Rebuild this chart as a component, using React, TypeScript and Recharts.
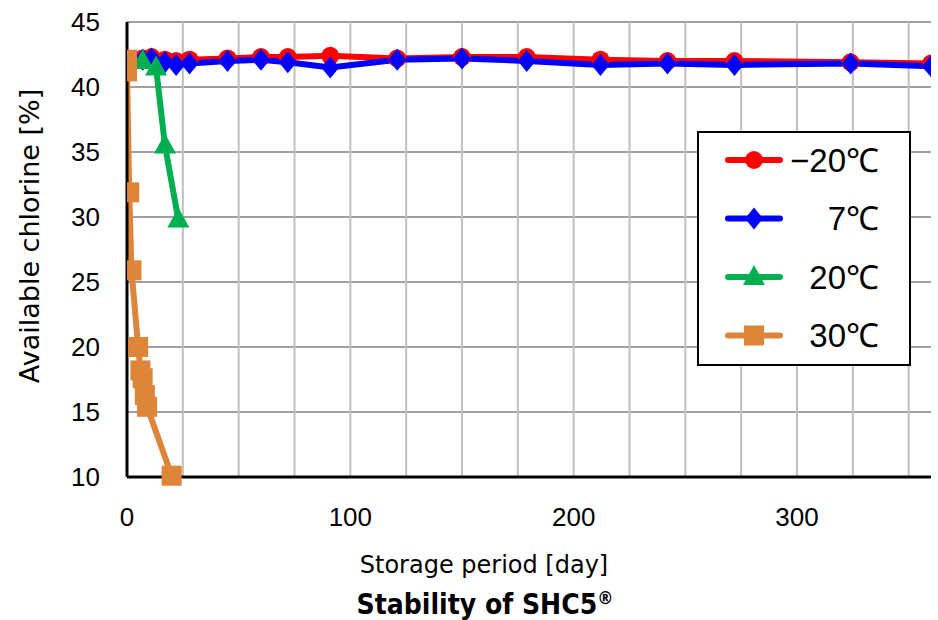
import React from 'react';
import { LineChart, Line, XAxis, YAxis, CartesianGrid, Legend, ReferenceLine } from 'recharts';

// storage days and available chlorine [%]
const daysCold = [0, 7, 11, 17, 22, 28, 45, 60, 72, 91, 121, 150, 179, 212, 242, 272, 324, 360];
const minus20C = [42.0, 42.2, 42.3, 42.1, 42.0, 42.1, 42.2, 42.3, 42.3, 42.4, 42.2, 42.3, 42.3, 42.1, 42.0, 42.0, 41.9, 41.8];
const plus7C = [42.0, 42.1, 42.2, 41.9, 41.7, 41.8, 42.0, 42.1, 41.9, 41.5, 42.1, 42.2, 42.0, 41.7, 41.8, 41.7, 41.8, 41.6];
const days20C = [0, 7, 13, 17, 23];
const plus20C = [42.0, 42.0, 41.5, 35.5, 29.8];
const days30C = [0, 0, 1, 2, 5, 6, 7, 8, 9, 20];
const plus30C = [42.1, 41.2, 31.9, 25.9, 20.0, 18.2, 17.6, 16.3, 15.4, 10.1];

const xTicks = [0, 100, 200, 300];
const xGridTicks = [25, 50, 75, 100, 125, 150, 175, 200, 225, 250, 275, 300, 325, 350];
const yTicks = [10, 15, 20, 25, 30, 35, 40, 45];

const legendLabels = ['\u221220\u2103', '7\u2103', '20\u2103', '30\u2103'];

const RED = '#FF0000';
const BLUE = '#0000FF';
const GREEN = '#00B050';
const ORANGE = '#DD8539';

const toPoints = (days: number[], vals: number[]) => days.map((d, i) => ({ day: d, value: vals[i] }));

const tickFont = "'Liberation Sans', Arial, sans-serif";
const titleFont = "'DejaVu Sans', sans-serif";

function Marker({ kind, cx, cy, color }: { kind: string; cx: number; cy: number; color: string }) {
  if (kind === 'circle') return <circle cx={cx} cy={cy} r={9} fill={color} />;
  if (kind === 'diamond')
    return <polygon points={`${cx},${cy - 11} ${cx + 9},${cy} ${cx},${cy + 11} ${cx - 9},${cy}`} fill={color} />;
  if (kind === 'triangle')
    return <polygon points={`${cx},${cy - 12} ${cx + 11},${cy + 8} ${cx - 11},${cy + 8}`} fill={color} />;
  return <rect x={cx - 10} y={cy - 10} width={20} height={20} fill={color} />;
}

const series = [
  { name: legendLabels[0], data: toPoints(daysCold, minus20C), color: RED, kind: 'circle' },
  { name: legendLabels[1], data: toPoints(daysCold, plus7C), color: BLUE, kind: 'diamond' },
  { name: legendLabels[2], data: toPoints(days20C, plus20C), color: GREEN, kind: 'triangle' },
  { name: legendLabels[3], data: toPoints(days30C, plus30C), color: ORANGE, kind: 'square' },
];

function LegendBox() {
  return (
    <svg width={214} height={235} style={{ display: 'block' }}>
      <rect x={1} y={1} width={212} height={233} fill="#fff" stroke="#000" strokeWidth={2} />
      {series.map((s, i) => {
        const y = 29 + i * 58.5;
        return (
          <g key={s.name}>
            <line x1={31} x2={83} y1={y} y2={y} stroke={s.color} strokeWidth={6} strokeLinecap="round" />
            <Marker kind={s.kind} cx={57} cy={y} color={s.color} />
            <text
              x={182}
              y={y}
              textAnchor="end"
              dominantBaseline="central"
              fontSize={33}
              fontFamily={tickFont}
              fill="#000"
            >
              {s.name}
            </text>
          </g>
        );
      })}
    </svg>
  );
}

export default function App() {
  return (
    <div style={{ position: 'absolute', left: 0, top: 0, width: 938, height: 620, background: '#fff' }}>
      <LineChart width={938} height={620} margin={{ top: 22, right: 7, left: 0, bottom: 0 }}>
        <CartesianGrid vertical={false} stroke="#A0A0A0" strokeWidth={2} />
        {xGridTicks.map((v) => (
          <ReferenceLine key={`g${v}`} x={v} stroke="#C0C0C0" strokeWidth={2} />
        ))}
        <XAxis
          dataKey="day"
          type="number"
          domain={[0, 360]}
          ticks={xTicks}
          allowDataOverflow
          height={143}
          axisLine={{ stroke: '#000', strokeWidth: 3 }}
          tickLine={false}
          tickSize={6}
          tickMargin={25}
          tick={{ fill: '#000', fontSize: 26, fontFamily: tickFont }}
        />
        <XAxis
          xAxisId="top"
          type="number"
          domain={[0, 360]}
          orientation="top"
          height={0}
          tick={false}
          tickLine={false}
          axisLine={{ stroke: '#000', strokeWidth: 2 }}
        />
        <YAxis
          type="number"
          domain={[10, 45]}
          ticks={yTicks}
          width={127}
          axisLine={{ stroke: '#000', strokeWidth: 3 }}
          tickLine={false}
          tickSize={6}
          tickMargin={21}
          tick={{ fill: '#000', fontSize: 26, fontFamily: tickFont }}
        />
        <YAxis
          yAxisId="right"
          orientation="right"
          type="number"
          domain={[10, 45]}
          width={0}
          tick={false}
          tickLine={false}
          axisLine={{ stroke: '#000', strokeWidth: 2 }}
        />
        <Legend
          layout="horizontal"
          align="center"
          verticalAlign="middle"
          wrapperStyle={{ left: 697, top: 131, width: 214, height: 235 }}
          content={() => <LegendBox />}
        />
        {series.map((s) => (
          <Line
            key={s.name}
            data={s.data}
            dataKey="value"
            name={s.name}
            stroke={s.color}
            strokeWidth={6}
            isAnimationActive={false}
            dot={(p: any) => <Marker key={`${s.kind}-${p.index}`} kind={s.kind} cx={p.cx} cy={p.cy} color={s.color} />}
            activeDot={false}
          />
        ))}
      </LineChart>
      <div
        style={{
          position: 'absolute',
          left: 29,
          top: 236,
          transform: 'translate(-50%, -50%) rotate(-90deg)',
          whiteSpace: 'nowrap',
          fontFamily: titleFont,
          fontSize: 27,
          color: '#000',
        }}
      >
        Available chlorine [%]
      </div>
      <div
        style={{
          position: 'absolute',
          left: 0,
          width: 968,
          top: 551,
          textAlign: 'center',
          fontFamily: titleFont,
          fontSize: 24,
          color: '#000',
        }}
      >
        Storage period [day]
      </div>
      <div
        style={{
          position: 'absolute',
          left: 0,
          width: 970,
          top: 589,
          textAlign: 'center',
          fontFamily: "'Liberation Sans Narrow', 'DejaVu Sans Condensed', sans-serif",
          fontWeight: 'bold',
          fontSize: 28,
          lineHeight: '32px',
          color: '#000',
        }}
      >
        Stability of SHC5<sup style={{ fontSize: 18, verticalAlign: 'top', lineHeight: '18px' }}>®</sup>
      </div>
    </div>
  );
}
